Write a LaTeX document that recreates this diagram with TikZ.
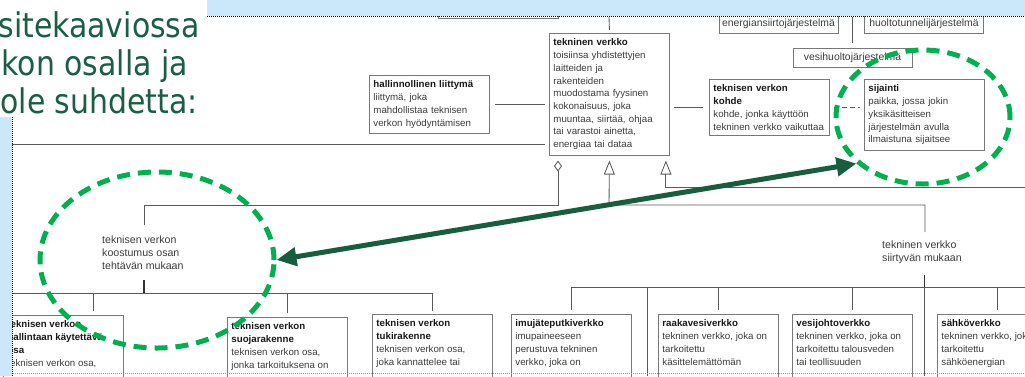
\documentclass[tikz,border=0pt]{standalone}
\usepackage{fontspec}
\setmainfont{Liberation Sans}
\newfontfamily\slidefont{DejaVu Sans}[FakeStretch=0.88]
\usetikzlibrary{arrows.meta,shapes.geometric}
\hyphenpenalty=10000

\definecolor{slideblue}{RGB}{203,232,251}
\definecolor{slidegreen}{RGB}{27,94,70}
\definecolor{markgreen}{RGB}{0,176,80}
\definecolor{arrowgreen}{RGB}{22,94,62}
\definecolor{boxline}{RGB}{120,120,120}
\definecolor{linkline}{RGB}{90,90,90}
\definecolor{termtext}{RGB}{25,25,25}
\definecolor{deftext}{RGB}{60,60,60}

% term name in bold, definition in plain grey text
\newcommand{\term}[1]{{\bfseries\color{termtext}#1}}
% body of a concept box that runs on past the lower edge
\newcommand{\cutbody}[1]{\parbox[t][86pt][t]{112pt}{\raggedright #1}}

\tikzset{
  bodyfont/.style={font=\fontsize{9.7}{12.7}\selectfont},
  concept/.style={bodyfont, draw=boxline, line width=0.9pt, fill=white,
    anchor=north west, inner xsep=4pt, inner ysep=5.5pt, text=deftext},
  fullconcept/.style={concept, text width=112pt, align=left},
  system/.style={draw=boxline, line width=0.9pt, fill=white, minimum width=119pt,
    minimum height=19pt, inner sep=0pt, text=deftext,
    font=\fontsize{10.4}{12}\selectfont},
  grouping/.style={inner sep=0pt, anchor=north west, align=left, text=deftext,
    font=\fontsize{10.6}{12.6}\selectfont},
  link/.style={draw=linkline, line width=0.85pt},
  stem/.style={draw=black!80, line width=1.3pt},
  slidetext/.style={inner sep=0pt, anchor=base east, text=slidegreen,
    font=\slidefont\fontsize{34}{38}\selectfont},
  ring/.style={draw=markgreen, line width=5pt, dash pattern=on 13pt off 8pt,
    ellipse, inner sep=0pt},
  openhead/.style={-{Triangle[open,length=14pt,width=11pt]}},
  aggregate/.style={-{Diamond[open,length=11pt,width=8pt]}},
}

\begin{document}
\begin{tikzpicture}[x=1pt,y=-1pt]
\useasboundingbox (0,0) rectangle (1025,376);
\clip (0,0) rectangle (1025,376);
\fill[white] (0,0) rectangle (1025,376);

% ---------- upper concepts
\node[concept, minimum width=120pt, minimum height=22pt, anchor=south west] (upper) at (438,19) {};
\node[system] (energy) at (778.5,23.5) {energiansiirtojärjestelmä};
\node[system] (tunnel) at (924,23.5) {huoltotunnelijärjestelmä};
\node[system] (water) at (852.5,58) {vesihuoltojärjestelmä};

\node[fullconcept] (net) at (549,33) {\term{tekninen verkko}\\toisiinsa yhdistettyjen\\laitteiden ja\\rakenteiden\\muodostama fyysinen\\kokonaisuus, joka\\muuntaa, siirtää, ohjaa\\tai varastoi ainetta,\\energiaa tai dataa};
\node[fullconcept] (admin) at (369,75) {\term{hallinnollinen liittymä}\\liittymä, joka\\mahdollistaa teknisen\\verkon hyödyntämisen};
\node[fullconcept] (target) at (709,79) {\term{teknisen verkon}\\\term{kohde}\\kohde, jonka käyttöön\\tekninen verkko vaikuttaa};
\node[fullconcept] (place) at (864,79) {\term{sijainti}\\paikka, jossa jokin\\yksikäsitteisen\\järjestelmän avulla\\ilmaistuna sijaitsee};

% ---------- grouping criteria
\node[grouping] (bycomp) at (102,236) {teknisen verkon\\koostumus osan\\tehtävän mukaan};
\node[grouping] (bymedium) at (882,241) {tekninen verkko\\siirtyvän mukaan};

% ---------- lower concepts
\node[concept] (control) at (3,315) {\cutbody{\term{teknisen verkon}\\\term{hallintaan käytettävä}\\\term{osa}\\teknisen verkon osa,}};
\node[concept] (shield) at (227,317) {\cutbody{\term{teknisen verkon}\\\term{suojarakenne}\\teknisen verkon osa,\\jonka tarkoituksena on}};
\node[concept] (support) at (372,314) {\cutbody{\term{teknisen verkon}\\\term{tukirakenne}\\teknisen verkon osa,\\joka kannattelee tai}};
\node[concept] (vacuum) at (511,314) {\cutbody{\term{imujäteputkiverkko}\\imupaineeseen\\perustuva tekninen\\verkko, joka on}};
\node[concept] (raw) at (658,314) {\cutbody{\term{raakavesiverkko}\\tekninen verkko, joka on\\tarkoitettu\\käsittelemättömän}};
\node[concept] (mains) at (792,314) {\cutbody{\term{vesijohtoverkko}\\tekninen verkko, joka on\\tarkoitettu talousveden\\tai teollisuuden}};
\node[concept] (power) at (937,314) {\cutbody{\term{sähköverkko}\\tekninen verkko, joka on\\tarkoitettu\\sähköenergian}};

% ---------- junctions and loose ends
\coordinate (upperdrop) at (609,17);
\coordinate (systemdrop) at (852.5,17);
\coordinate (leftend) at (0,144);
\coordinate (rightend) at (1025,187);
\coordinate (hubA) at (558,205);
\coordinate (hubB) at (609,205);
\coordinate (compTop) at (144,225);
\coordinate (compBottom) at (144,280);
\coordinate (compBus) at (0,293);
\coordinate (medTop) at (925,232);
\coordinate (medBottom) at (924.5,275);
\coordinate (medBus) at (1025,287);
\coordinate (passA) at (647,287);
\coordinate (passAend) at (647,376);
\coordinate (passBend) at (924.5,376);

% ---------- relations
\draw[link] (upperdrop) -- ([yshift=3pt]net.north);
\draw[link] (systemdrop) -- ([yshift=5pt]water.north);
\draw[link] ([xshift=5pt]admin.east) -- ([xshift=-4pt]admin.east -| net.west);
\draw[link] (leftend) -- ([xshift=-4pt]leftend -| net.west);
\draw[link] ([xshift=4pt]target.west -| net.east) -- ([xshift=-6pt]target.west);
\draw[link, dash pattern=on 5pt off 3pt] ([xshift=4pt]target.east) -- ([xshift=-4pt]target.east -| place.west);

\draw[link, aggregate] (compTop) |- (hubA) -- ([yshift=-5pt]hubA |- net.south);
\draw[link, openhead] (medTop) |- (hubB) -- ([yshift=-5pt]net.south);
\draw[link, openhead] (rightend) -| ([xshift=-4pt,yshift=-5pt]net.south east);

% composition tree
\draw[stem] (compBottom) -- (compBottom |- compBus);
\draw[link] (compBus) -| ([yshift=3pt]support.north);
\draw[link] ([yshift=4pt]shield.north) -- (shield.north |- compBus);
\draw[link] ([xshift=30pt,yshift=4pt]control.north) -- ([xshift=30pt]control.north |- compBus);

% medium tree
\draw[stem] (medBottom) -- (medBottom |- medBus);
\draw[link] ([yshift=4pt]vacuum.north) |- (medBus);
\draw[link] ([yshift=4pt]raw.north) -- (raw.north |- medBus);
\draw[link] ([yshift=4pt]mains.north) -- (mains.north |- medBus);
\draw[link] ([yshift=4pt]power.north) -- (power.north |- medBus);
\draw[link] (passA) -- (passAend);
\draw[link] (medBottom |- medBus) -- (passBend);

% ---------- slide background around the embedded chart
\fill[slideblue] (0,0) rectangle (1025,16);
\fill[slideblue] (0,0) rectangle (12,376);
\fill[white] (0,0) rectangle (207,117);
\draw[black, line width=1.1pt, dash pattern=on 1pt off 1pt] (207,16.5) -- (1025,16.5);
\draw[black, line width=1.1pt, dash pattern=on 1pt off 1pt] (12.5,117) -- (12.5,376);
\draw[black!40, line width=0.8pt, dash pattern=on 1pt off 1pt] (13,373) -- (1025,373);

\node[slidetext] (lineA) at (200,37) {sitekaaviossa};
\node[slidetext] (lineB) at (188,75) {kon osalla ja};
\node[slidetext] (lineC) at (198,113) {ole suhdetta:};

% ---------- highlight rings and the link between them
\node[ring, minimum width=234pt, minimum height=176pt] (ringL) at (157,260) {};
\node[ring, minimum width=174pt, minimum height=134pt] (ringR) at (923,117) {};
\draw[arrowgreen, line width=5pt,
  {Triangle[length=20pt,width=18pt]}-{Triangle[length=20pt,width=18pt]}]
  (ringL.east) -- (ringR.215);
\end{tikzpicture}
\end{document}
